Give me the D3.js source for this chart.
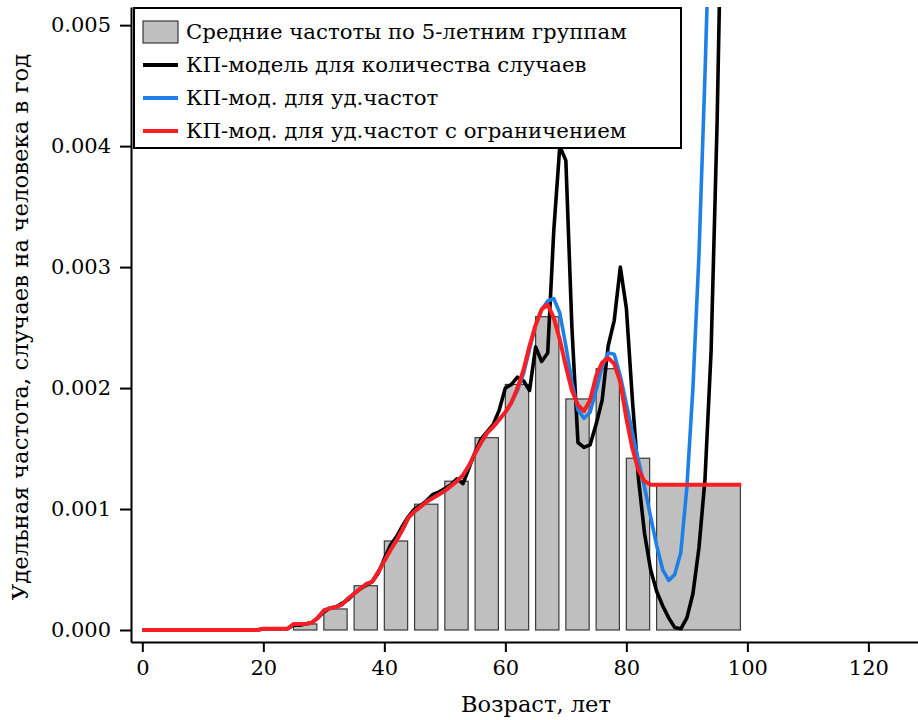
<!DOCTYPE html>
<html>
<head>
<meta charset="utf-8">
<style>
  body{
    margin: 0;
    background: white;
  }
  text.ru{
    font-family: 'DejaVu Serif', serif;
  }
</style>
</head>
<body>
<svg id='svgVis'></svg>

<script src="https://cdn.jsdelivr.net/npm/d3@7"></script>
<script>

// 5-year groups (last one is 85-99)
var groupStart = [0, 5, 10, 15, 20, 25, 30, 35, 40, 45, 50, 55, 60, 65, 70, 75, 80, 85];
var groupEnd   = [4, 9, 14, 19, 24, 29, 34, 39, 44, 49, 54, 59, 64, 69, 74, 79, 84, 99];
var groupRate  = [0, 0, 0, 0, 0, 0.00005, 0.000174, 0.000366, 0.000736, 0.00104, 0.00123,
                  0.00159, 0.00203, 0.00259, 0.00191, 0.00216, 0.00142, 0.0012];

// CP-model for case counts, ages 0..96
var countModel = [
  0, 0, 0, 0, 0, 0, 0, 0, 0, 0, 0, 0, 0, 0, 0, 0, 0, 0, 0, 0,
  0.00001, 0.00001, 0.00001, 0.00001, 0.00001,
  0.00004, 0.00004, 0.00005, 0.00006, 0.0001,
  0.00015, 0.00018, 0.00019, 0.00022, 0.00025,
  0.0003, 0.00034, 0.00037, 0.0004, 0.00047,
  0.00059, 0.0007, 0.00077, 0.00086, 0.00094,
  0.001, 0.00103, 0.00107, 0.00112, 0.00114,
  0.00117, 0.0012, 0.00125, 0.00121, 0.00134,
  0.00147, 0.00158, 0.00164, 0.0017, 0.00182,
  0.002, 0.00203, 0.00209, 0.00206, 0.00198,
  0.00234, 0.00222, 0.00229, 0.0033, 0.004,
  0.00388, 0.0025, 0.00155, 0.00151, 0.00153,
  0.0017, 0.0019, 0.00235, 0.00256, 0.003,
  0.00266, 0.0019, 0.00125, 0.0008, 0.0005,
  0.00032, 0.0002, 0.0001, 0.00002, 0.00001,
  0.0001, 0.0003, 0.00068, 0.00125, 0.0023,
  0.0042, 0.0068
];

// CP-model for specific rates, ages 0..94
var rateModel = [
  0, 0, 0, 0, 0, 0, 0, 0, 0, 0, 0, 0, 0, 0, 0, 0, 0, 0, 0, 0,
  0.00001, 0.00001, 0.00001, 0.00001, 0.00001,
  0.00005, 0.00005, 0.00005, 0.00006, 0.0001,
  0.00016, 0.00018, 0.00019, 0.00021, 0.00026,
  0.0003, 0.00034, 0.00038, 0.0004, 0.00048,
  0.00057, 0.00066, 0.00074, 0.00083, 0.00093,
  0.00098, 0.00102, 0.00106, 0.00109, 0.00112,
  0.00115, 0.00119, 0.00123, 0.00128, 0.00136,
  0.00146, 0.00155, 0.00163, 0.00168, 0.00174,
  0.0018, 0.00188, 0.00198, 0.00212, 0.00232,
  0.00252, 0.00265, 0.00272, 0.00274, 0.00262,
  0.00235, 0.00205, 0.00182, 0.00175, 0.0018,
  0.00198, 0.00218, 0.00229, 0.00228, 0.0021,
  0.00187, 0.00163, 0.0014, 0.00118, 0.00094,
  0.0007, 0.0005, 0.00041, 0.00046, 0.00064,
  0.00118, 0.002, 0.0031, 0.0046, 0.0063
];

// CP-model for specific rates with constraint, ages 0..99
var rateModelLim = [
  0, 0, 0, 0, 0, 0, 0, 0, 0, 0, 0, 0, 0, 0, 0, 0, 0, 0, 0, 0,
  0.00001, 0.00001, 0.00001, 0.00001, 0.00001,
  0.00005, 0.00005, 0.00005, 0.00006, 0.0001,
  0.00016, 0.00018, 0.00019, 0.00021, 0.00026,
  0.0003, 0.00034, 0.00038, 0.0004, 0.00048,
  0.00057, 0.00066, 0.00074, 0.00083, 0.00093,
  0.00098, 0.00102, 0.00106, 0.00109, 0.00112,
  0.00115, 0.00119, 0.00123, 0.00128, 0.00136,
  0.00146, 0.00155, 0.00163, 0.00168, 0.00174,
  0.0018, 0.00188, 0.002, 0.00215, 0.00235,
  0.00252, 0.00265, 0.00269, 0.00258, 0.0024,
  0.00218, 0.00198, 0.00186, 0.00181, 0.0019,
  0.0021, 0.00221, 0.00225, 0.0022, 0.00205,
  0.00175, 0.0015, 0.00132, 0.00123, 0.0012,
  0.0012, 0.0012, 0.0012, 0.0012, 0.0012,
  0.0012, 0.0012, 0.0012, 0.0012, 0.0012,
  0.0012, 0.0012, 0.0012, 0.0012, 0.0012
];

var xTicks = [0, 20, 40, 60, 80, 100, 120];
var yTicks = [0, 0.001, 0.002, 0.003, 0.004, 0.005];

var legendLabels = [
  "Средние частоты по 5-летним группам",
  "КП-модель для количества случаев",
  "КП-мод. для уд.частот",
  "КП-мод. для уд.частот с ограничением"
];
var lineColors = ["#000000", "#1e80e6", "#fa1e23"];

var width = 918, height = 720;
var plotLeft = 131, plotRight = 918, plotTop = 7, plotBottom = 642;

var svg = d3.select("#svgVis")
    .attr("width", width)
    .attr("height", height);

var x = d3.scaleLinear().domain([-1.87, 128.2]).range([plotLeft, plotRight]);
var y = d3.scaleLinear().domain([-0.0000992, 0.00515]).range([plotBottom, plotTop]);

// scale a text's font so that it is as wide as in the reference
function fitText(sel, targetWidth) {
  var node = sel.node();
  var size = parseFloat(sel.style("font-size"));
  var w = node.getComputedTextLength();
  sel.style("font-size", (size * targetWidth / w).toFixed(2) + "px");
}

svg.append("clipPath").attr("id", "plotClip")
  .append("rect")
  .attr("x", plotLeft).attr("y", plotTop)
  .attr("width", plotRight - plotLeft).attr("height", plotBottom - plotTop);

var plot = svg.append("g").attr("clip-path", "url(#plotClip)");

// bars
var bars = groupStart.map(function(s, i) {
  return {start: s, end: groupEnd[i], rate: groupRate[i]};
});

plot.selectAll("rect.bar")
  .data(bars.filter(function(d) { return d.rate > 0; }))
  .enter()
  .append("rect")
  .attr("class", "bar")
  .attr("x", function(d) { return x(d.start); })
  .attr("width", function(d) { return x(d.end - 0.15) - x(d.start); })
  .attr("y", function(d) { return y(d.rate); })
  .attr("height", function(d) { return y(0) - y(d.rate); })
  .style("fill", "#bfbfbf")
  .style("stroke", "#3a3a3a")
  .style("stroke-width", 1.2);

// model curves
var line = d3.line()
  .x(function(d, i) { return x(i); })
  .y(function(d) { return y(d); });

var curves = [countModel, rateModel, rateModelLim];
var curveWidths = [3.6, 3.6, 4];

curves.forEach(function(c, i) {
  plot.append("path")
    .datum(c)
    .attr("d", line)
    .style("fill", "none")
    .style("stroke", lineColors[i])
    .style("stroke-width", curveWidths[i])
    .style("stroke-linejoin", "round");
});

// axes
var xAxis = svg.append("g")
  .attr("transform", "translate(0," + plotBottom + ")")
  .call(d3.axisBottom(x).tickValues(xTicks).tickSize(10).tickSizeOuter(0).tickPadding(8));

var yAxis = svg.append("g")
  .attr("transform", "translate(" + plotLeft + ",0)")
  .call(d3.axisLeft(y).tickValues(yTicks).tickFormat(d3.format(".3f")).tickSize(11).tickSizeOuter(0).tickPadding(9));

[xAxis, yAxis].forEach(function(a) {
  a.attr("font-family", "DejaVu Serif").attr("font-size", 21);
  a.selectAll("path, line").style("stroke", "#000").style("stroke-width", 2);
  a.selectAll("text").attr("class", "ru").style("font-size", "21px").style("fill", "#000");
});

var xLabel = svg.append("text")
  .attr("class", "ru")
  .attr("x", 536)
  .attr("y", 712)
  .attr("text-anchor", "middle")
  .style("font-size", "22px")
  .text("Возраст, лет");
fitText(xLabel, 150);

var yLabel = svg.append("text")
  .attr("class", "ru")
  .attr("transform", "translate(28,327) rotate(-90)")
  .attr("text-anchor", "middle")
  .style("font-size", "22px")
  .text("Удельная частота, случаев на человека в год");
fitText(yLabel, 547);

// legend
var legend = svg.append("g");

legend.append("rect")
  .attr("x", 134).attr("y", 8)
  .attr("width", 547).attr("height", 140)
  .style("fill", "white")
  .style("stroke", "#000")
  .style("stroke-width", 2);

legend.append("rect")
  .attr("x", 143).attr("y", 21)
  .attr("width", 35).attr("height", 22)
  .style("fill", "#bfbfbf")
  .style("stroke", "#3a3a3a")
  .style("stroke-width", 1.2);

lineColors.forEach(function(c, i) {
  legend.append("line")
    .attr("x1", 143).attr("x2", 178)
    .attr("y1", 65 + i * 33).attr("y2", 65 + i * 33)
    .style("stroke", c)
    .style("stroke-width", 4);
});

var legText = legend.selectAll("text.leg")
  .data(legendLabels)
  .enter()
  .append("text")
  .attr("class", "leg ru")
  .attr("x", 186)
  .attr("y", function(d, i) { return 32 + i * 33; })
  .attr("dy", "0.35em")
  .style("font-size", "22px")
  .text(function(d) { return d; });

// same size for every row, taken from the first one
fitText(d3.select(legText.nodes()[0]), 441);
legText.style("font-size", d3.select(legText.nodes()[0]).style("font-size"));

</script>
</body>
</html>
